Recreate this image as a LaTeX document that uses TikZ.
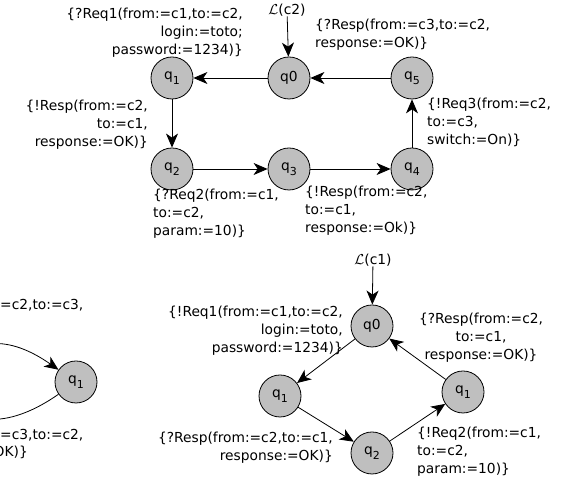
\documentclass[tikz,border=0pt]{standalone}
\usepackage{fontspec}
\setmainfont{DejaVu Sans}
\usetikzlibrary{arrows.meta}
\newcommand{\qsub}[1]{q\raisebox{-5pt}{\fontsize{11}{11}\selectfont#1}}

\begin{document}
\begin{tikzpicture}[x=1pt,y=1pt,
    state/.style={circle, draw, line width=0.8pt, fill=black!25, minimum size=42pt, inner sep=0pt},
    lbl/.style={inner sep=0pt},
    edge/.style={-{Stealth[length=14pt,width=12pt,inset=4pt]}, line width=0.8pt}]
    \useasboundingbox (0,0) rectangle (576,486);
    \clip (0,0) rectangle (576,486);

    \begin{scope}[every node/.append style={font=\fontsize{13.8}{18}\selectfont}]
        % c2
        \node[state] (q0a) at (289,408) {q0};
        \node[state] (q1a) at (172,408) {\qsub{1}};
        \node[state] (q2a) at (172,317) {\qsub{2}};
        \node[state] (q3a) at (289,317) {\qsub{3}};
        \node[state] (q4a) at (412,317) {\qsub{4}};
        \node[state] (q5a) at (412,408) {\qsub{5}};
        \node[lbl] (lc2) at (287,476) {$\mathcal{L}$(c2)};

        \node[lbl, anchor=east, align=right] (req1a) at (243,453)
            {\{?Req1(from:=c1,to:=c2,\\login:=toto;\\password:=1234)\}};
        \node[lbl, anchor=east, align=right] (resp1a) at (148,361)
            {\{!Resp(from:=c2,\\to:=c1,\\response:=OK)\}};
        \node[lbl, anchor=west, align=left] (req2a) at (153,272)
            {\{?Req2(from:=c1,\\to:=c2,\\param:=10)\}};
        \node[lbl, anchor=west, align=left] (resp2a) at (305,275)
            {\{!Resp(from:=c2,\\to:=c1,\\response:=Ok)\}};
        \node[lbl, anchor=west, align=left] (req3a) at (427,364)
            {\{!Req3(from:=c2,\\to:=c3,\\switch:=On)\}};
        \node[lbl, anchor=west, align=left] (resp3a) at (315,451)
            {\{?Resp(from:=c3,to:=c2,\\response:=OK)\}};

        % c1
        \node[state] (q0b) at (372,160) {q0};
        \node[state] (q1b) at (280,90) {\qsub{1}};
        \node[state] (q2b) at (372,33) {\qsub{2}};
        \node[state] (q3b) at (463,94) {\qsub{1}};
        \node[lbl] (lc1) at (373,226) {$\mathcal{L}$(c1)};

        \node[lbl, anchor=east, align=right] (req1b) at (343,155)
            {\{!Req1(from:=c1,to:=c2,\\login:=toto,\\password:=1234)\}};
        \node[lbl, align=center] (resp1b) at (481,148)
            {\{?Resp(from:=c2,\\to:=c1,\\response:=OK)\}};
        \node[lbl, anchor=east, align=right] (resp2b) at (333,38)
            {\{?Resp(from:=c2,to:=c1,\\response:=OK)\}};
        \node[lbl, anchor=west, align=left] (req2b) at (417,34)
            {\{!Req2(from:=c1,\\to:=c2,\\param:=10)\}};

        % c3
        \coordinate (q0c) at (-60,104);
        \node[state] (q1c) at (76,104) {\qsub{1}};
        \node[lbl, anchor=west] (req3c) at (0,181) {=c2,to:=c3,};
        \node[lbl, anchor=west] (resp3c) at (0,51) {=c3,to:=c2,};
        \node[lbl, anchor=east] (resp3d) at (28,34) {OK)\}};
    \end{scope}

    \begin{scope}[edge]
        \draw (lc2) -- (q0a);
        \draw (q0a) -- (q1a);
        \draw (q1a) -- (q2a);
        \draw (q2a) -- (q3a);
        \draw (q3a) -- (q4a);
        \draw (q4a) -- (q5a);
        \draw (q5a) -- (q0a);

        \draw (lc1) -- (q0b);
        \draw (q0b) -- (q1b);
        \draw (q1b) -- (q2b);
        \draw (q2b) -- (q3b);
        \draw (q3b) -- (q0b);

        \draw (q0c) to[out=60, in=145, looseness=1.25] (q1c);
        \draw (q1c) to[out=-145, in=-60, looseness=1.2] (q0c);
    \end{scope}
\end{tikzpicture}
\end{document}
